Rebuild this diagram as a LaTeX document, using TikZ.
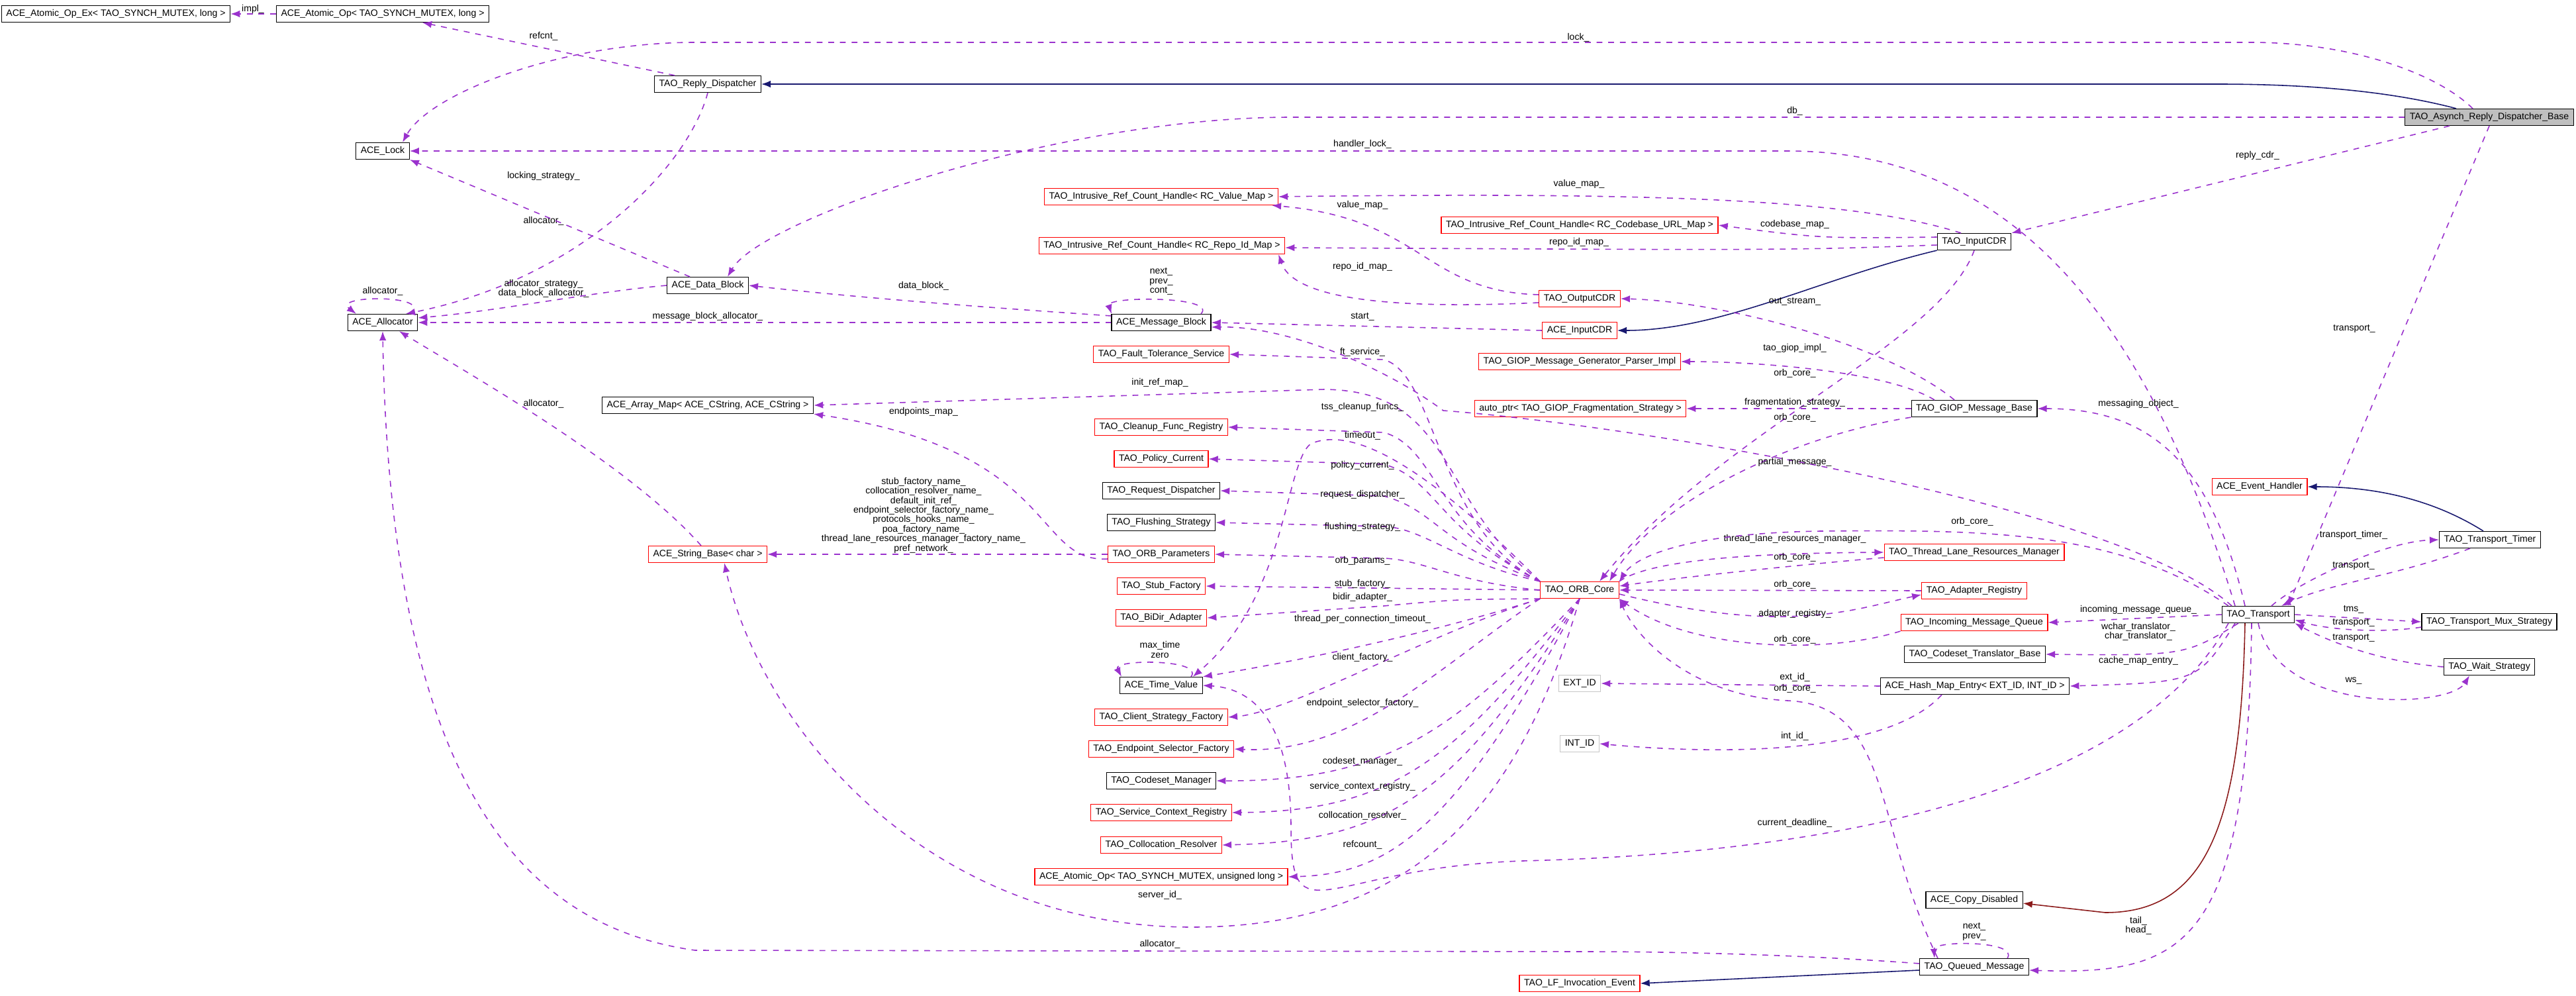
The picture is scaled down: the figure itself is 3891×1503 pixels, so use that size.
\documentclass[tikz,border=0pt]{standalone}
\usepackage{fontspec}
\newfontfamily\graphfont{Liberation Sans}
\newcommand{\dfont}{\graphfont\fontsize{4}{4.1}\selectfont}
\usetikzlibrary{arrows.meta, positioning}
\definecolor{usecol}{HTML}{9A32CD}
\definecolor{inhcol}{HTML}{191970}
\definecolor{privcol}{HTML}{8B1A1A}

\begin{document}
\begin{tikzpicture}[x=0.01cm, y=-0.01cm,
  cls/.style={rectangle, draw=black, line width=0.35pt, inner xsep=2pt, inner ysep=0pt, minimum height=0.25cm, font=\dfont},
  redcls/.style={cls, draw=red},
  graycls/.style={cls, draw=gray!45},
  basecls/.style={cls, fill=gray!50},
  use/.style={draw=usecol, line width=0.45pt, dash pattern=on 2.5pt off 2.5pt, -{Latex[length=4pt,width=3pt]}},
  inh/.style={draw=inhcol, line width=0.45pt, -{Latex[length=4pt,width=3pt]}},
  priv/.style={inh, draw=privcol},
  lbl/.style={font=\dfont, inner sep=0pt, align=center}]
  \useasboundingbox (0,0) rectangle (3891,1503);
  % classes
  \node[cls] (atomopex) at (175,21) {ACE\_Atomic\_Op\_Ex< TAO\_SYNCH\_MUTEX, long >};
  \node[cls] (atomop) at (578,21) {ACE\_Atomic\_Op< TAO\_SYNCH\_MUTEX, long >};
  \node[cls] (reply) at (1069,127) {TAO\_Reply\_Dispatcher};
  \node[basecls] (asynch) at (3760,177) {TAO\_Asynch\_Reply\_Dispatcher\_Base};
  \node[cls] (lock) at (578,228) {ACE\_Lock};
  \node[cls] (dblock) at (1069,431) {ACE\_Data\_Block};
  \node[cls] (alloc) at (578,487) {ACE\_Allocator};
  \node[cls] (mblock) at (1754,487) {ACE\_Message\_Block};
  \node[redcls] (irval) at (1754,297) {TAO\_Intrusive\_Ref\_Count\_Handle< RC\_Value\_Map >};
  \node[redcls] (ircb) at (2386,340) {TAO\_Intrusive\_Ref\_Count\_Handle< RC\_Codebase\_URL\_Map >};
  \node[redcls] (irrepo) at (1755,371) {TAO\_Intrusive\_Ref\_Count\_Handle< RC\_Repo\_Id\_Map >};
  \node[redcls] (outcdr) at (2386,451) {TAO\_OutputCDR};
  \node[redcls] (acein) at (2386,499) {ACE\_InputCDR};
  \node[cls] (tinput) at (2982,365) {TAO\_InputCDR};
  \node[redcls] (ft) at (1754,535) {TAO\_Fault\_Tolerance\_Service};
  \node[redcls] (gengp) at (2386,546) {TAO\_GIOP\_Message\_Generator\_Parser\_Impl};
  \node[cls] (amap) at (1069,612) {ACE\_Array\_Map< ACE\_CString, ACE\_CString >};
  \node[redcls] (autoptr) at (2387,617) {auto\_ptr< TAO\_GIOP\_Fragmentation\_Strategy >};
  \node[cls] (gmb) at (2982,617) {TAO\_GIOP\_Message\_Base};
  \node[redcls] (cleanup) at (1754,645) {TAO\_Cleanup\_Func\_Registry};
  \node[redcls] (policy) at (1754,693) {TAO\_Policy\_Current};
  \node[cls] (reqd) at (1754,741) {TAO\_Request\_Dispatcher};
  \node[cls] (flush) at (1754,789) {TAO\_Flushing\_Strategy};
  \node[redcls] (params) at (1754,837) {TAO\_ORB\_Parameters};
  \node[redcls] (stub) at (1754,885) {TAO\_Stub\_Factory};
  \node[redcls] (bidir) at (1754,933) {TAO\_BiDir\_Adapter};
  \node[redcls] (orbcore) at (2386,891) {TAO\_ORB\_Core};
  \node[redcls] (strb) at (1069,837) {ACE\_String\_Base< char >};
  \node[cls] (tval) at (1754,1035) {ACE\_Time\_Value};
  \node[redcls] (cstrat) at (1754,1083) {TAO\_Client\_Strategy\_Factory};
  \node[redcls] (endp) at (1754,1131) {TAO\_Endpoint\_Selector\_Factory};
  \node[cls] (codm) at (1754,1179) {TAO\_Codeset\_Manager};
  \node[redcls] (svc) at (1754,1227) {TAO\_Service\_Context\_Registry};
  \node[redcls] (coll) at (1754,1276) {TAO\_Collocation\_Resolver};
  \node[redcls] (atomul) at (1754,1324) {ACE\_Atomic\_Op< TAO\_SYNCH\_MUTEX, unsigned long >};
  \node[graycls] (extid) at (2386,1032) {EXT\_ID};
  \node[graycls] (intid) at (2386,1123) {INT\_ID};
  \node[redcls] (lf) at (2386,1485) {TAO\_LF\_Invocation\_Event};
  \node[redcls] (evh) at (3413,735) {ACE\_Event\_Handler};
  \node[cls] (ttimer) at (3761,815) {TAO\_Transport\_Timer};
  \node[redcls] (tlrm) at (2982,834) {TAO\_Thread\_Lane\_Resources\_Manager};
  \node[redcls] (adreg) at (2982,892) {TAO\_Adapter\_Registry};
  \node[redcls] (imq) at (2982,940) {TAO\_Incoming\_Message\_Queue};
  \node[cls] (trans) at (3411,928) {TAO\_Transport};
  \node[cls] (mux) at (3760,939) {TAO\_Transport\_Mux\_Strategy};
  \node[cls] (ctrans) at (2983,988) {TAO\_Codeset\_Translator\_Base};
  \node[cls] (wait) at (3760,1007) {TAO\_Wait\_Strategy};
  \node[cls] (hme) at (2983,1036) {ACE\_Hash\_Map\_Entry< EXT\_ID, INT\_ID >};
  \node[cls] (cdis) at (2982,1359) {ACE\_Copy\_Disabled};
  \node[cls] (qmsg) at (2982,1460) {TAO\_Queued\_Message};

  % inheritance
  \draw[inh] ([xshift=-0.5cm]asynch.north) .. controls (3620,140) and (3500,127) .. (3350,127) -- (reply.east);
  \draw[inh] (tinput.south west) .. controls (2750,420) and (2600,499) .. (acein.east);
  \draw[inh] ([xshift=-0.1cm]ttimer.north) .. controls (3700,770) and (3620,735) .. (evh.east);
  \draw[priv] ([xshift=-0.2cm]trans.south) .. controls (3385,1250) and (3330,1378) .. (3180,1378) -- ([yshift=-0.05cm]cdis.east);
  \draw[inh] ([yshift=-0.05cm]qmsg.west) -- (lf.east);

  % TAO_Asynch_Reply_Dispatcher_Base
  \draw[use] ([xshift=-0.25cm]asynch.north) .. controls (3680,110) and (3550,64) .. (3400,64) -- (1050,64) .. controls (850,64) and (650,140) .. ([xshift=0.3cm]lock.north) node[lbl] at (2384,57) {lock\_};
  \draw[use] (asynch.west) -- (1950,177) .. controls (1600,177) and (1150,330) .. ([xshift=0.3cm]dblock.north) node[lbl] at (2711,168) {db\_};
  \draw[use] ([xshift=-0.6cm]asynch.south) -- (tinput.north east) node[lbl] at (3410,235) {reply\_cdr\_};
  \draw[use] (asynch.south) -- ([xshift=0.45cm]trans.north) node[lbl] at (3556,496) {transport\_};

  % left part
  \draw[use] (atomop.west) -- (atomopex.east) node[lbl] at (382,14) {impl\_};
  \draw[use] ([xshift=-0.5cm]reply.north) -- ([xshift=0.6cm]atomop.south) node[lbl] at (821,55) {refcnt\_};
  \draw[use] (reply.south) .. controls (1040,250) and (880,420) .. ([xshift=0.35cm]alloc.north) node[lbl] at (821,334) {allocator\_};
  \draw[use] ([xshift=0.35cm]dblock.north west) -- (lock.south east) node[lbl] at (821,266) {locking\_strategy\_};
  \draw[use] (dblock.west) .. controls (900,440) and (750,470) .. ([yshift=0.07cm]alloc.east) node[lbl] at (821,436) {allocator\_strategy\_\\data\_block\_allocator\_};
  \draw[use] ([xshift=0.4cm]alloc.north) .. controls (660,445) and (500,445) .. ([xshift=-0.4cm]alloc.north) node[lbl] at (578,440) {allocator\_};
  \draw[use] (mblock.west) -- (alloc.east) node[lbl] at (1069,478) {message\_block\_allocator\_};
  \draw[use] ([yshift=0.1cm]mblock.west) .. controls (1500,465) and (1300,450) .. (dblock.east) node[lbl] at (1395,432) {data\_block\_};
  \draw[use] ([xshift=0.6cm]mblock.north) .. controls (1840,447) and (1670,447) .. ([xshift=-0.75cm]mblock.north) node[lbl] at (1754,425) {next\_\\prev\_\\cont\_};
  \draw[use] ([xshift=-0.1cm]strb.north) .. controls (950,700) and (700,560) .. ([xshift=0.25cm]alloc.south) node[lbl] at (821,610) {allocator\_};

  % CDR streams
  \draw[use] ([xshift=-0.35cm]trans.north) .. controls (3250,500) and (3050,228) .. (2700,228) -- (lock.east) node[lbl] at (2058,218) {handler\_lock\_};
  \draw[use] ([xshift=-0.2cm]tinput.north) .. controls (2800,300) and (2500,290) .. (irval.east) node[lbl] at (2385,278) {value\_map\_};
  \draw[use] ([yshift=0.07cm]tinput.west) .. controls (2750,360) .. (ircb.east) node[lbl] at (2711,339) {codebase\_map\_};
  \draw[use] ([yshift=-0.05cm]tinput.west) .. controls (2700,378) .. ([yshift=-0.03cm]irrepo.east) node[lbl] at (2385,366) {repo\_id\_map\_};
  \draw[use] (tinput.south) .. controls (2930,520) and (2600,650) .. ([xshift=0.3cm]orbcore.north) node[lbl] at (2711,564) {orb\_core\_};
  \draw[use] ([yshift=0.06cm]outcdr.west) .. controls (2150,440) and (2150,330) .. ([xshift=-0.1cm]irval.south east) node[lbl] at (2058,310) {value\_map\_};
  \draw[use] ([yshift=-0.06cm]outcdr.west) .. controls (2050,470) and (1950,440) .. ([xshift=-0.1cm]irrepo.south east) node[lbl] at (2058,403) {repo\_id\_map\_};
  \draw[use] (acein.west) -- (mblock.east) node[lbl] at (2058,478) {start\_};

  % TAO_GIOP_Message_Base
  \draw[use] ([xshift=-0.3cm]gmb.north) .. controls (2850,520) and (2600,455) .. (outcdr.east) node[lbl] at (2711,455) {out\_stream\_};
  \draw[use] ([xshift=-0.6cm]gmb.north) .. controls (2850,560) and (2650,546) .. (gengp.east) node[lbl] at (2711,526) {tao\_giop\_impl\_};
  \draw[use] (gmb.west) -- (autoptr.east) node[lbl] at (2711,608) {fragmentation\_strategy\_};
  \draw[use] (gmb.south west) .. controls (2700,660) and (2500,760) .. ([xshift=0.45cm]orbcore.north) node[lbl] at (2711,631) {orb\_core\_};

  % TAO_ORB_Core
  \draw[use] (orbcore.north west) .. controls (2170,800) and (2170,565) .. (2090,543) -- (ft.east) node[lbl] at (2058,532) {ft\_service\_};
  \draw[use] (orbcore.north west) .. controls (2170,760) and (2200,590) .. (2000,588) -- (amap.east) node[lbl] at (1752,578) {init\_ref\_map\_};
  \draw[use] ([yshift=-0.07cm]params.west) .. controls (1560,850) and (1600,680) .. (amap.south east) node[lbl] at (1395,622) {endpoints\_map\_};
  \draw[use] (orbcore.north west) .. controls (2170,800) and (2170,675) .. (2090,653) -- (cleanup.east) node[lbl] at (2058,615) {tss\_cleanup\_funcs\_};
  \draw[use] (orbcore.north west) .. controls (2170,720) and (2050,640) .. (1980,670) .. controls (1940,700) and (1945,900) .. ([xshift=-0.15cm]tval.north east) node[lbl] at (2058,658) {timeout\_};
  \draw[use] (orbcore.north west) .. controls (2170,800) and (2170,723) .. (2090,701) -- (policy.east) node[lbl] at (2058,703) {policy\_current\_};
  \draw[use] (orbcore.north west) .. controls (2170,820) and (2170,771) .. (2090,749) -- (reqd.east) node[lbl] at (2058,747) {request\_dispatcher\_};
  \draw[use] (orbcore.north west) .. controls (2200,850) and (2150,797) .. (2090,795) -- (flush.east) node[lbl] at (2058,796) {flushing\_strategy\_};
  \draw[use] (orbcore.west) .. controls (2200,880) and (2150,845) .. (2090,843) -- (params.east) node[lbl] at (2058,847) {orb\_params\_};
  \draw[use] (orbcore.west) -- (stub.east) node[lbl] at (2058,882) {stub\_factory\_};
  \draw[use] (orbcore.south west) .. controls (2200,905) .. (2090,915) -- (bidir.east) node[lbl] at (2058,902) {bidir\_adapter\_};
  \draw[use] (orbcore.south west) .. controls (2150,960) and (1950,1000) .. (tval.north east) node[lbl] at (2058,935) {thread\_per\_connection\_timeout\_};
  \draw[use] (params.west) -- (strb.east) node[lbl] at (1395,778) {stub\_factory\_name\_\\collocation\_resolver\_name\_\\default\_init\_ref\_\\endpoint\_selector\_factory\_name\_\\protocols\_hooks\_name\_\\poa\_factory\_name\_\\thread\_lane\_resources\_manager\_factory\_name\_\\pref\_network\_};
  \draw[use] ([xshift=0.45cm]tval.north) .. controls (1820,995) and (1680,995) .. ([xshift=-0.6cm]tval.north) node[lbl] at (1752,981) {max\_time\\zero};
  \draw[use] (orbcore.south west) .. controls (2150,960) and (1950,1075) .. (cstrat.east) node[lbl] at (2058,993) {client\_factory\_};
  \draw[use] (orbcore.south west) .. controls (2180,1000) and (2050,1140) .. (endp.east) node[lbl] at (2058,1062) {endpoint\_selector\_factory\_};
  \draw[use] (orbcore.south) .. controls (2200,1100) and (2100,1180) .. (codm.east) node[lbl] at (2058,1150) {codeset\_manager\_};
  \draw[use] (orbcore.south) .. controls (2200,1150) and (2100,1225) .. (svc.east) node[lbl] at (2058,1188) {service\_context\_registry\_};
  \draw[use] (orbcore.south) .. controls (2200,1200) and (2100,1270) .. (coll.east) node[lbl] at (2058,1232) {collocation\_resolver\_};
  \draw[use] (orbcore.south) .. controls (2200,1250) and (2100,1320) .. (atomul.east) node[lbl] at (2058,1276) {refcount\_};
  \draw[use] (orbcore.south) .. controls (2300,1200) and (2150,1400) .. (1800,1400) .. controls (1400,1400) and (1150,1100) .. ([xshift=0.25cm]strb.south) node[lbl] at (1752,1352) {server\_id\_};
  \draw[use] (orbcore.north east) .. controls (2500,840) and (2700,835) .. (tlrm.west) node[lbl] at (2711,814) {thread\_lane\_resources\_manager\_};
  \draw[use] ([yshift=-0.08cm]tlrm.west) .. controls (2750,850) and (2550,870) .. ([yshift=0.06cm]orbcore.east) node[lbl] at (2711,842) {orb\_core\_};
  \draw[use] (adreg.west) -- (orbcore.east) node[lbl] at (2711,883) {orb\_core\_};
  \draw[use] ([yshift=-0.06cm]orbcore.east) .. controls (2700,960) and (2800,920) .. ([yshift=-0.06cm]adreg.west) node[lbl] at (2711,927) {adapter\_registry\_};
  \draw[use] (imq.south west) .. controls (2750,990) and (2550,980) .. (orbcore.south east) node[lbl] at (2711,966) {orb\_core\_};

  % TAO_Transport
  \draw[use] ([xshift=-0.2cm]trans.north) .. controls (3340,700) and (3250,617) .. (gmb.east) node[lbl] at (3230,610) {messaging\_object\_};
  \draw[use] ([xshift=-0.4cm]trans.north) .. controls (3200,760) and (2450,640) .. (2180,620) .. controls (2100,560) and (1950,492) .. ([yshift=-0.07cm]mblock.east) node[lbl] at (2711,698) {partial\_message\_};
  \draw[use] ([xshift=-0.45cm]trans.north) .. controls (3200,800) and (3000,800) .. (2750,802) .. controls (2550,805) and (2470,840) .. (orbcore.north east) node[lbl] at (2979,788) {orb\_core\_};
  \draw[use] (trans.west) -- (imq.east) node[lbl] at (3230,921) {incoming\_message\_queue\_};
  \draw[use] ([xshift=-0.3cm]trans.south) .. controls (3300,990) .. (ctrans.east) node[lbl] at (3230,954) {wchar\_translator\_\\char\_translator\_};
  \draw[use] ([xshift=-0.35cm]trans.south) .. controls (3320,1030) .. (hme.east) node[lbl] at (3230,998) {cache\_map\_entry\_};
  \draw[use] ([xshift=-0.45cm]trans.south) .. controls (3250,1150) and (2900,1285) .. (2300,1300) .. controls (2000,1310) and (1950,1420) .. (1950,1250) .. controls (1950,1100) and (1900,1040) .. (tval.east) node[lbl] at (2711,1243) {current\_deadline\_};
  \draw[use] ([xshift=-0.1cm]trans.south) .. controls (3395,1430) and (3300,1473) .. ([yshift=-0.05cm]qmsg.east) node[lbl] at (3230,1398) {tail\_\\head\_};
  \draw[use] ([xshift=0.2cm]trans.north) .. controls (3470,880) and (3600,818) .. (ttimer.west) node[lbl] at (3555,808) {transport\_timer\_};
  \draw[use] ([xshift=-0.3cm]ttimer.south) .. controls (3620,870) and (3520,880) .. ([xshift=0.35cm]trans.north) node[lbl] at (3555,854) {transport\_};
  \draw[use] (trans.east) -- (mux.west) node[lbl] at (3555,920) {tms\_};
  \draw[use] ([yshift=-0.08cm]mux.west) .. controls (3600,956) and (3520,952) .. ([yshift=-0.08cm]trans.east) node[lbl] at (3555,940) {transport\_};
  \draw[use] (wait.west) .. controls (3600,1000) and (3520,970) .. (trans.south east) node[lbl] at (3555,963) {transport\_};
  \draw[use] (trans.south) .. controls (3440,1080) and (3700,1070) .. ([xshift=-0.3cm]wait.south) node[lbl] at (3555,1028) {ws\_};

  % map entry and queued message
  \draw[use] (hme.west) -- (extid.east) node[lbl] at (2711,1023) {ext\_id\_};
  \draw[use] ([xshift=-0.5cm]hme.south) .. controls (2850,1140) and (2600,1140) .. (intid.east) node[lbl] at (2711,1112) {int\_id\_};
  \draw[use] ([xshift=-0.55cm]qmsg.north) .. controls (2830,1250) and (2860,1065) .. (2700,1058) .. controls (2550,1050) and (2470,960) .. (orbcore.south east) node[lbl] at (2711,1040) {orb\_core\_};
  \draw[use] ([xshift=0.5cm]qmsg.north) .. controls (3050,1420) and (2920,1420) .. ([xshift=-0.6cm]qmsg.north) node[lbl] at (2982,1407) {next\_\\prev\_};
  \draw[use] ([yshift=0.05cm]qmsg.west) .. controls (2700,1440) and (2500,1437) .. (2400,1437) -- (1050,1435) .. controls (800,1400) and (590,1200) .. (alloc.south) node[lbl] at (1752,1426) {allocator\_};
\end{tikzpicture}
\end{document}
